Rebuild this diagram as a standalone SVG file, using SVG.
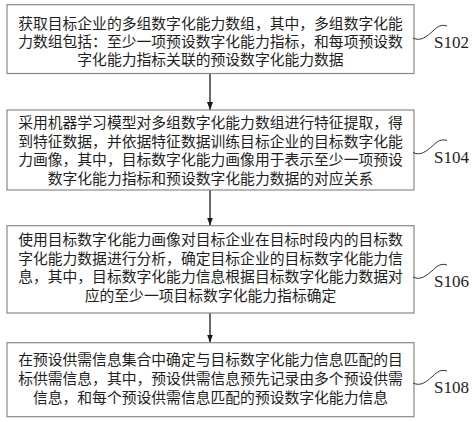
<svg xmlns="http://www.w3.org/2000/svg" width="474" height="422" viewBox="0 0 474 422">
<style>
.box{fill:#ffffff;stroke:#8a8a8a;stroke-width:1.2}
.t{font-family:"Noto Sans CJK SC","Noto Sans",sans-serif;font-size:14.8px;fill:#1e1e1e;text-anchor:middle}
.lbl{font-family:"Liberation Serif","Times New Roman",serif;font-size:17px;fill:#1e1e1e}
.tilde{fill:none;stroke:#333;stroke-width:1}
.conn{stroke:#1a1a1a;stroke-width:1.3;fill:none}
</style>
<defs>
<marker id="ah" viewBox="0 0 8 6" refX="8" refY="3" markerWidth="8" markerHeight="6" markerUnits="userSpaceOnUse" orient="auto">
<path d="M0,0 L8,3 L0,6 z" fill="#1a1a1a"/>
</marker>
</defs>
<rect width="474" height="422" fill="#ffffff"/>
<g id="connectors">
<line class="conn" x1="210" y1="73.5" x2="210" y2="110" marker-end="url(#ah)"/>
<line class="conn" x1="210" y1="190" x2="210" y2="225.5" marker-end="url(#ah)"/>
<line class="conn" x1="210" y1="313" x2="210" y2="342.5" marker-end="url(#ah)"/>
</g>
<g id="S102">
<rect class="box" x="7" y="4.7" width="407" height="68.8"/>
<text class="t"><tspan x="210.5" y="28.5">获取目标企业的多组数字化能力数组，其中，多组数字化能</tspan><tspan x="210.5" y="46.5">力数组包括：至少一项预设数字化能力指标，和每项预设数</tspan><tspan x="210.5" y="64.5">字化能力指标关联的预设数字化能力数据</tspan></text>
<path class="tilde" d="M413,38 C421,42 427,36 433,31 C437,27 441,24 447,26"/>
<text class="lbl" x="434" y="48">S102</text>
</g>
<g id="S104">
<rect class="box" x="7" y="110" width="407" height="80"/>
<text class="t"><tspan x="210.5" y="128">采用机器学习模型对多组数字化能力数组进行特征提取，得</tspan><tspan x="210.5" y="146.5">到特征数据，并依据特征数据训练目标企业的目标数字化能</tspan><tspan x="210.5" y="165">力画像，其中，目标数字化能力画像用于表示至少一项预设</tspan><tspan x="210.5" y="183.5">数字化能力指标和预设数字化能力数据的对应关系</tspan></text>
<path class="tilde" d="M413,152.5 C421,156.5 427,150.5 433,145.5 C437,141.5 441,138.5 447,140.5"/>
<text class="lbl" x="434" y="162.5">S104</text>
</g>
<g id="S106">
<rect class="box" x="7" y="225.7" width="407" height="87.3"/>
<text class="t"><tspan x="210.5" y="245">使用目标数字化能力画像对目标企业在目标时段内的目标数</tspan><tspan x="210.5" y="263.5">字化能力数据进行分析，确定目标企业的目标数字化能力信</tspan><tspan x="210.5" y="282">息，其中，目标数字化能力信息根据目标数字化能力数据对</tspan><tspan x="210.5" y="300.5">应的至少一项目标数字化能力指标确定</tspan></text>
<path class="tilde" d="M413,277 C421,281 427,275 433,270 C437,266 441,263 447,265"/>
<text class="lbl" x="434" y="287">S106</text>
</g>
<g id="S108">
<rect class="box" x="7" y="342.7" width="407" height="74"/>
<text class="t"><tspan x="210.5" y="365">在预设供需信息集合中确定与目标数字化能力信息匹配的目</tspan><tspan x="210.5" y="384">标供需信息，其中，预设供需信息预先记录由多个预设供需</tspan><tspan x="210.5" y="403">信息，和每个预设供需信息匹配的预设数字化能力信息</tspan></text>
<path class="tilde" d="M413,383 C421,387 427,381 433,376 C437,372 441,369 447,371"/>
<text class="lbl" x="434" y="393">S108</text>
</g>
</svg>
